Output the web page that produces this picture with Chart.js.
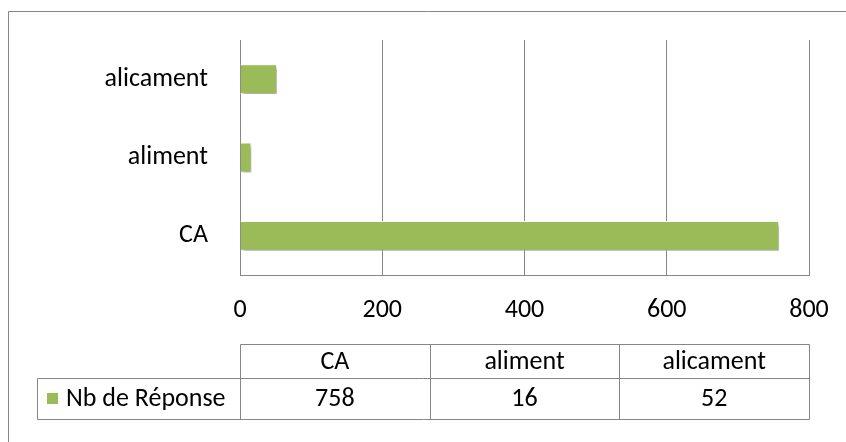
<!DOCTYPE html>
<html>
<head>
<meta charset="utf-8">
<script src="https://cdn.jsdelivr.net/npm/chart.js@4"></script>
<style>
  html, body { margin: 0; padding: 0; background: #fff; }
  #wrap { position: relative; width: 846px; height: 442px; }
</style>
</head>
<body>
<div id="wrap"><canvas id="c" width="846" height="442"></canvas></div>
<script>
const categories = ["CA", "aliment", "alicament"];
const seriesName = "Nb de Réponse";
const seriesValues = [758, 16, 52];
const xTicks = [0, 200, 400, 600, 800];

const FONT = "Carlito, Lato, sans-serif";
const FS = 26;
const GREEN = "#9BBB59";
const GRID = "#868686";

const labelsTopDown = categories.slice().reverse();
const valuesTopDown = seriesValues.slice().reverse();

const framePlugin = {
  id: 'frame',
  beforeDraw(chart) {
    const ctx = chart.ctx;
    ctx.save();
    ctx.strokeStyle = GRID;
    ctx.lineWidth = 1;
    ctx.beginPath();
    ctx.moveTo(8.5, 442);
    ctx.lineTo(8.5, 11.5);
    ctx.lineTo(846, 11.5);
    ctx.stroke();
    ctx.restore();
  },
  beforeDatasetsDraw(chart) {
    const ctx = chart.ctx;
    ctx.save();
    ctx.shadowColor = 'rgba(0,0,0,0.35)';
    ctx.shadowBlur = 4;
    ctx.shadowOffsetX = 2;
    ctx.shadowOffsetY = 3;
  },
  afterDatasetsDraw(chart) {
    chart.ctx.restore();
  },
  afterDraw(chart) {
    const ctx = chart.ctx;
    const xs = chart.scales.x;
    const left = xs.left, right = xs.right;
    const colW = (right - left) / categories.length;
    const top = 344, mid = 378, bottom = 419, legendLeft = 37;
    ctx.save();
    ctx.strokeStyle = GRID;
    ctx.lineWidth = 1;
    ctx.beginPath();
    ctx.moveTo(left + 0.5, top + 0.5); ctx.lineTo(right + 0.5, top + 0.5);
    ctx.moveTo(legendLeft + 0.5, mid + 0.5); ctx.lineTo(right + 0.5, mid + 0.5);
    ctx.moveTo(legendLeft + 0.5, bottom + 0.5); ctx.lineTo(right + 0.5, bottom + 0.5);
    ctx.moveTo(legendLeft + 0.5, mid + 0.5); ctx.lineTo(legendLeft + 0.5, bottom + 0.5);
    for (let i = 0; i <= categories.length; i++) {
      const x = Math.round(left + i * colW) + 0.5;
      ctx.moveTo(x, top + 0.5); ctx.lineTo(x, bottom + 0.5);
    }
    ctx.stroke();
    ctx.fillStyle = '#000';
    ctx.font = FS + "px " + FONT;
    ctx.textAlign = 'center';
    ctx.textBaseline = 'middle';
    categories.forEach((c, i) => {
      const cx = left + (i + 0.5) * colW;
      ctx.fillText(c, cx, (top + mid) / 2 + 1);
      ctx.fillText(String(seriesValues[i]), cx, (mid + bottom) / 2 + 1);
    });
    ctx.fillStyle = GREEN;
    ctx.fillRect(47, 393, 11, 11);
    ctx.fillStyle = '#000';
    ctx.textAlign = 'left';
    ctx.fillText(seriesName, 66, (mid + bottom) / 2 + 1);
    ctx.restore();
  }
};

new Chart(document.getElementById('c'), {
  type: 'bar',
  data: {
    labels: labelsTopDown,
    datasets: [{
      label: seriesName,
      data: valuesTopDown,
      backgroundColor: GREEN,
      borderColor: '#ffffff',
      borderWidth: 1,
      categoryPercentage: 1,
      barPercentage: 0.38
    }]
  },
  options: {
    indexAxis: 'y',
    responsive: false,
    animation: false,
    events: [],
    layout: { padding: { top: 40, right: 37, left: 0, bottom: 0 } },
    plugins: { legend: { display: false }, tooltip: { enabled: false } },
    scales: {
      x: {
        min: xTicks[0],
        max: xTicks[xTicks.length - 1],
        afterBuildTicks(scale) { scale.ticks = xTicks.map(v => ({ value: v })); },
        afterFit(scale) { scale.height = 442 - 275; scale.paddingLeft = 0; scale.paddingRight = 0; },
        grid: { color: GRID, lineWidth: 1, drawTicks: false },
        border: { color: GRID, width: 1 },
        ticks: { color: '#000', font: { family: FONT, size: FS }, padding: 20, maxRotation: 0 }
      },
      y: {
        afterFit(scale) { scale.width = 240; scale.paddingTop = 0; scale.paddingBottom = 0; },
        grid: { display: false, drawTicks: false },
        border: { color: GRID, width: 1 },
        ticks: { color: '#000', font: { family: FONT, size: FS }, padding: 32 }
      }
    }
  },
  plugins: [framePlugin]
});
</script>
</body>
</html>
